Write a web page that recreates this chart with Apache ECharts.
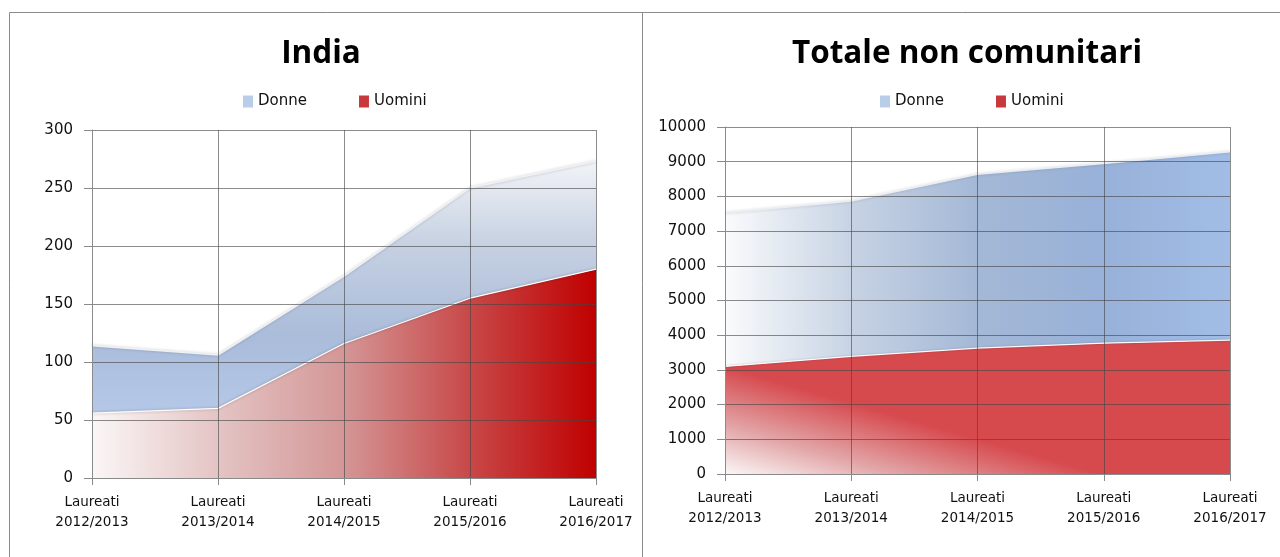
<!DOCTYPE html>
<html><head><meta charset="utf-8">
<script src="https://cdn.jsdelivr.net/npm/echarts@6/dist/echarts.min.js"></script>
<style>html,body{margin:0;padding:0;background:#fff}#c{width:1280px;height:557px}</style>
</head><body><div id="c"></div>
<script>
const categories = ['Laureati\n2012/2013','Laureati\n2013/2014','Laureati\n2014/2015','Laureati\n2015/2016','Laureati\n2016/2017'];
const indiaUomini = [56, 60, 116, 155, 180];
const indiaDonne = [58, 46, 58, 95, 93];
const totUomini = [3100, 3390, 3630, 3770, 3860];
const totDonne = [4420, 4480, 5010, 5180, 5430];
const titles = ['India', 'Totale non comunitari'];
const seriesNames = ['Donne', 'Uomini'];

const titleFont = '"Open Sans", "DejaVu Sans", sans-serif';
const font = '"DejaVu Sans", sans-serif';
const grey = '#8a8a8a';
const G = (x,y,x2,y2,stops)=>new echarts.graphic.LinearGradient(x,y,x2,y2,stops.map(s=>({offset:s[0],color:s[1]})));

const chart = echarts.init(document.getElementById('c'), null, {renderer:'canvas'});

function axes(gi, max, interval){
  return {
    x: {type:'category', gridIndex:gi, data:categories, boundaryGap:false, z:10,
      axisLine:{lineStyle:{color:grey}}, axisTick:{show:true, length:7, lineStyle:{color:grey}},
      splitLine:{show:true, lineStyle:{color:'rgba(70,70,70,0.62)', width:1}},
      axisLabel:{color:'#111', fontFamily:font, fontSize:13.5, lineHeight:20, margin:14, interval:0}},
    y: {type:'value', gridIndex:gi, min:0, max:max, interval:interval, z:10,
      axisLine:{show:true, lineStyle:{color:grey}}, axisTick:{show:true, length:8, lineStyle:{color:grey}},
      splitLine:{show:true, lineStyle:{color:'rgba(70,70,70,0.62)', width:1}},
      axisLabel:{color:'#111', fontFamily:font, fontSize:15, margin:19, formatter:v=>String(v)}}
  };
}
const a0 = axes(0, 300, 50), a1 = axes(1, 10000, 1000);

const legendBase = {top:89, icon:'rect', itemWidth:10, itemHeight:12, itemGap:52, data:seriesNames,
  textStyle:{fontFamily:font, fontSize:15, color:'#111'}};

const option = {
  animation:false,
  backgroundColor:'#fff',
  title:[
    {text:titles[0], left:316, top:33, textAlign:'center', textStyle:{fontFamily:titleFont, fontWeight:'bold', fontSize:31.5, color:'#000'}},
    {text:titles[1], left:962, top:33, textAlign:'center', textStyle:{fontFamily:titleFont, fontWeight:'bold', fontSize:31.5, color:'#000'}}
  ],
  legend:[
    Object.assign({left:238}, legendBase),
    Object.assign({left:875}, legendBase)
  ],
  grid:[
    {left:92, right:684, top:130, bottom:79},
    {left:725, right:50, top:127, bottom:83}
  ],
  xAxis:[a0.x, a1.x],
  yAxis:[a0.y, a1.y],
  graphic:[
    {type:'line', shape:{x1:9.5,y1:12.5,x2:1280,y2:12.5}, style:{stroke:grey, lineWidth:1}, silent:true},
    {type:'line', shape:{x1:9.5,y1:12.5,x2:9.5,y2:557}, style:{stroke:grey, lineWidth:1}, silent:true},
    {type:'line', shape:{x1:642.5,y1:12.5,x2:642.5,y2:557}, style:{stroke:grey, lineWidth:1}, silent:true}
  ],
  series:[
    {name:'Uomini', type:'line', xAxisIndex:0, yAxisIndex:0, stack:'a', data:indiaUomini, symbol:'none', z:2,
      color:'#c9393c',
      lineStyle:{color:'rgba(255,255,255,0.95)', width:1.2, shadowBlur:3, shadowColor:'rgba(0,0,0,0.3)'},
      areaStyle:{opacity:1, color:G(0,0,1,0,[[0,'#fbf6f6'],[0.25,'#e4c4c4'],[0.5,'#d49696'],[0.75,'#c84848'],[1,'#c00000']])}},
    {name:'Donne', type:'line', xAxisIndex:0, yAxisIndex:0, stack:'a', data:indiaDonne, symbol:'none', z:2,
      color:'#b9cce8',
      lineStyle:{color:'rgba(240,242,246,0.95)', width:1.5, shadowBlur:3, shadowColor:'rgba(0,0,0,0.25)'},
      areaStyle:{opacity:1, color:G(0,0,0,1,[[0,'#f1f3f7'],[0.35,'#c4cfe1'],[0.7,'#aabcda'],[1,'#b6c8e8']])}},
    {name:'Uomini', type:'line', xAxisIndex:1, yAxisIndex:1, stack:'b', data:totUomini, symbol:'none', z:2,
      color:'#e05a5e',
      lineStyle:{color:'rgba(255,255,255,0.95)', width:1.2, shadowBlur:2, shadowColor:'rgba(0,0,0,0.25)'},
      areaStyle:{opacity:1, color:G(0,1,0.056,0.26,[[0,'#fbf7f7'],[0.45,'#e2a6a8'],[1,'#d64a4e']])}},
    {name:'Donne', type:'line', xAxisIndex:1, yAxisIndex:1, stack:'b', data:totDonne, symbol:'none', z:2,
      color:'#a8c0e4',
      lineStyle:{color:'rgba(235,238,243,0.95)', width:1.5, shadowBlur:3, shadowColor:'rgba(0,0,0,0.2)'},
      areaStyle:{opacity:1, color:G(0,0,1,0,[[0,'#fafbfc'],[0.25,'#c7d3e4'],[0.5,'#a4b8d6'],[0.75,'#98b1d9'],[1,'#a1bde6']])}}
  ]
};
chart.setOption(option);
</script></body></html>
